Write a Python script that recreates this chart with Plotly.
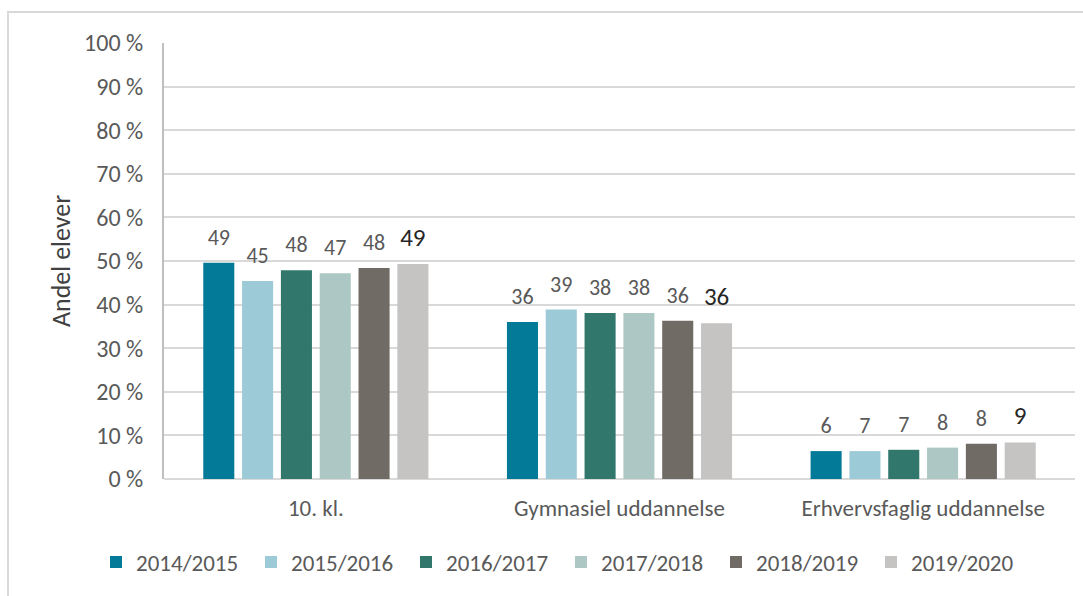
import plotly.graph_objects as go

categories = ["10. kl.", "Gymnasiel uddannelse", "Erhvervsfaglig uddannelse"]
series_names = ["2014/2015", "2015/2016", "2016/2017", "2017/2018", "2018/2019", "2019/2020"]

# bar heights (percent)
v_2014 = [49.6, 36.0, 6.4]
v_2015 = [45.4, 38.9, 6.4]
v_2016 = [47.9, 38.1, 6.7]
v_2017 = [47.2, 38.1, 7.2]
v_2018 = [48.4, 36.3, 8.1]
v_2019 = [49.3, 35.7, 8.4]

# data labels as printed on the chart
l_2014 = ["49", "36", "6"]
l_2015 = ["45", "39", "7"]
l_2016 = ["48", "38", "7"]
l_2017 = ["47", "38", "8"]
l_2018 = ["48", "36", "8"]
l_2019 = ["49", "36", "9"]

values = [v_2014, v_2015, v_2016, v_2017, v_2018, v_2019]
labels = [l_2014, l_2015, l_2016, l_2017, l_2018, l_2019]
colors = ["#037A97", "#9CCAD6", "#31776B", "#ADC8C4", "#716B66", "#C6C4C2"]

y_tickvals = [0, 10, 20, 30, 40, 50, 60, 70, 80, 90, 100]
y_ticktext = ["0 %", "10 %", "20 %", "30 %", "40 %", "50 %", "60 %", "70 %", "80 %", "90 %", "100 %"]

FONT = "Calibri, Carlito, Lato, sans-serif"
GRAY = "#595959"

fig = go.Figure()
for name, vals, col in zip(series_names, values, colors):
    fig.add_trace(go.Bar(x=categories, y=vals, name=name, marker=dict(color=col, line=dict(width=0)),
                         hoverinfo="skip"))

for i, (name, vals, labs) in enumerate(zip(series_names, values, labels)):
    last = i == len(series_names) - 1
    fig.add_trace(go.Scatter(x=categories, y=vals, text=labs, mode="text+markers",
                             orientation="v",
                             marker=dict(size=18, opacity=0),
                             textposition="top center",
                             textfont=dict(family=FONT, size=25 if last else 22,
                                           color="#262626" if last else GRAY),
                             showlegend=False, hoverinfo="skip"))

L, R, T, B = 164, 8, 43, 117
W, H = 1083, 596
pw, ph = W - L - R, H - T - B

def px_x(p):
    return (p - L) / pw

def px_y(p):
    return (H - B - p) / ph

fig.update_layout(
    width=W, height=H,
    margin=dict(l=L, r=R, t=T, b=B, pad=0, autoexpand=False),
    paper_bgcolor="white", plot_bgcolor="white",
    barmode="group", bargap=0.233, bargroupgap=0.2,
    scattermode="group", scattergap=0.233,
    font=dict(family=FONT, size=23, color=GRAY),
    showlegend=True,
    legend=dict(orientation="h", x=px_x(96), xanchor="left", y=px_y(562), yanchor="middle",
                font=dict(family=FONT, size=23, color=GRAY),
                entrywidth=110, entrywidthmode="pixels", traceorder="normal",
                bgcolor="rgba(0,0,0,0)"),
    xaxis=dict(showgrid=False, showline=False, ticks="", tickfont=dict(size=23, color=GRAY),
               ticklabelstandoff=13, fixedrange=True, automargin=False),
    yaxis=dict(range=[0, 100], tickvals=y_tickvals, ticktext=y_ticktext,
               showgrid=True, gridcolor="#D9D9D9", gridwidth=2,
               zeroline=True, zerolinecolor="#D9D9D9", zerolinewidth=2,
               showline=True, linecolor="#BFBFBF", linewidth=2,
               ticks="", ticklabelstandoff=14, tickfont=dict(size=24, color=GRAY),
               fixedrange=True, automargin=False),
    annotations=[dict(text="Andel elever", x=px_x(61), y=px_y(261), xref="paper", yref="paper",
                      textangle=-90, showarrow=False, xanchor="center", yanchor="middle",
                      font=dict(family=FONT, size=26, color="#404040"))],
    shapes=[dict(type="rect", xref="paper", yref="paper", x0=px_x(8), y0=-0.6, x1=1.3, y1=px_y(12),
                 line=dict(color="#D9D9D9", width=2), fillcolor="rgba(0,0,0,0)", layer="below")],
)

fig.write_html("out.html", config={"displayModeBar": False},
               post_script="document.body.style.margin='0';")
